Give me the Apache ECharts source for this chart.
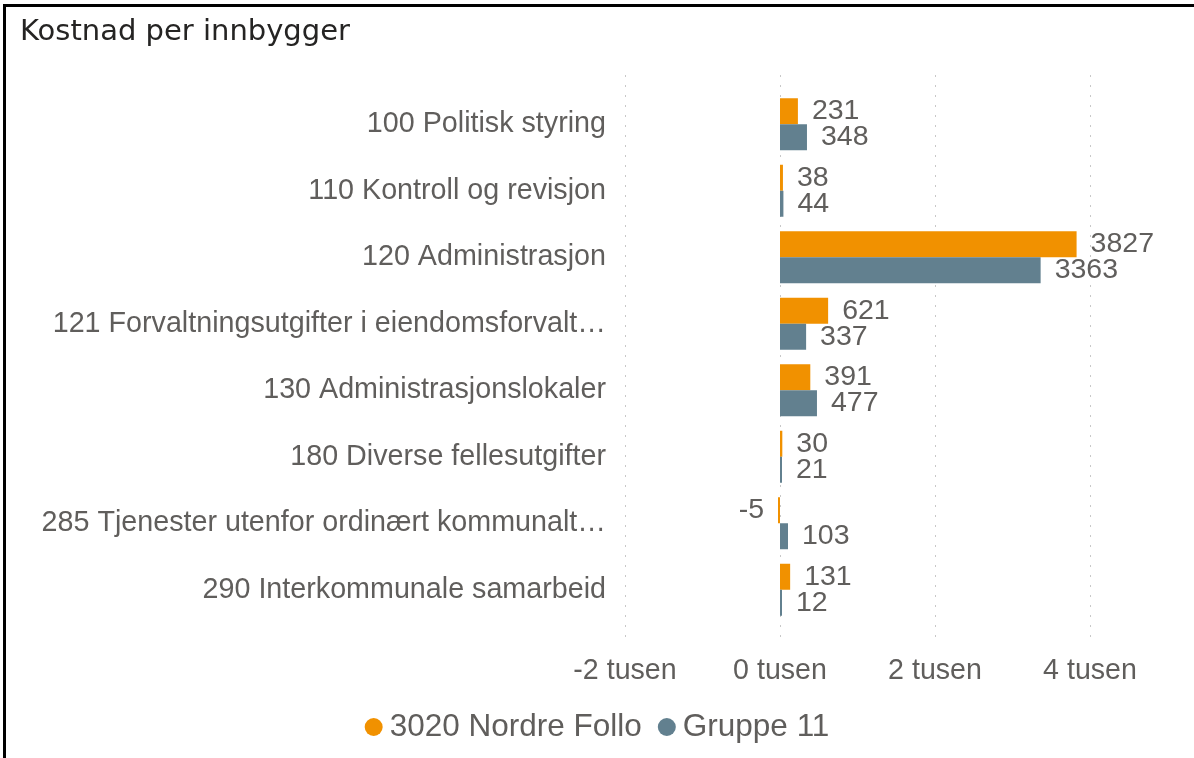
<!DOCTYPE html>
<html>
<head>
<meta charset="utf-8">
<script src="https://cdn.jsdelivr.net/npm/echarts@6/dist/echarts.min.js"></script>
<style>
  html, body { margin: 0; padding: 0; background: #fff; }
  #frame { position: absolute; left: 3px; top: 4px; width: 1191px; height: 754px;
           border-top: 3px solid #000; border-left: 3px solid #000; box-sizing: border-box; }
  #chart { position: absolute; left: 0; top: 0; width: 1194px; height: 758px; }
</style>
</head>
<body>
<div id="chart"></div>
<div id="frame"></div>
<script>
const categories = [
  "100 Politisk styring",
  "110 Kontroll og revisjon",
  "120 Administrasjon",
  "121 Forvaltningsutgifter i eiendomsforvalt…",
  "130 Administrasjonslokaler",
  "180 Diverse fellesutgifter",
  "285 Tjenester utenfor ordinært kommunalt…",
  "290 Interkommunale samarbeid"
];
const seriesNames = ["3020 Nordre Follo", "Gruppe 11"];
const nordreFollo = [231, 38, 3827, 621, 391, 30, -5, 131];
const gruppe11 = [348, 44, 3363, 337, 477, 21, 103, 12];
const xTicks = [-2000, 0, 2000, 4000];

const chart = echarts.init(document.getElementById('chart'), null, { renderer: 'canvas' });
const textColor = '#605E5C';
const FONT = '"Liberation Sans", Arial, sans-serif';

function toData(arr) {
  return arr.map(v => v < 0 ? { value: v, label: { position: 'left' } } : v);
}

const axisCommon = {
  type: 'value', min: xTicks[0], max: xTicks[xTicks.length - 1], interval: 2000
};

chart.setOption({
  animation: false,
  color: ['#F19100', '#62808F'],
  title: {
    text: 'Kostnad per innbygger',
    left: 15, top: 13,
    textStyle: { fontFamily: '"DejaVu Sans", sans-serif', fontSize: 29, fontWeight: 'normal', color: '#252423' }
  },
  legend: {
    data: seriesNames,
    left: 'center', top: 706,
    icon: 'circle', itemWidth: 18, itemHeight: 18, itemGap: 16,
    textStyle: { fontFamily: FONT, fontSize: 31.5, color: textColor, padding: [0, 0, 0, 2] }
  },
  grid: [
    { left: 625, right: 104, top: 91, bottom: 135 },
    { left: 625, right: 104, top: 75, bottom: 113 }
  ],
  xAxis: [
    Object.assign({}, axisCommon, {
      gridIndex: 0,
      axisLine: { show: false }, axisTick: { show: false },
      splitLine: { show: false },
      axisLabel: { margin: 34, fontFamily: FONT, fontSize: 28.6, color: textColor,
                   formatter: v => (v / 1000) + ' tusen' }
    }),
    Object.assign({}, axisCommon, {
      gridIndex: 1,
      axisLine: { show: false }, axisTick: { show: false }, axisLabel: { show: false },
      splitLine: { show: true, lineStyle: { color: '#C8C8C8', width: 1, type: [2, 8] } }
    })
  ],
  yAxis: [
    {
      gridIndex: 0, type: 'category', data: categories, inverse: true,
      axisLine: { show: false }, axisTick: { show: false },
      axisLabel: { margin: 19, fontFamily: FONT, fontSize: 28.7, color: textColor, padding: [3, 0, 0, 0] }
    },
    { gridIndex: 1, type: 'category', data: categories, show: false }
  ],
  series: [
    {
      name: seriesNames[0], type: 'bar', xAxisIndex: 0, yAxisIndex: 0,
      data: toData(nordreFollo), barWidth: 26, barGap: '0%', barMinHeight: 2,
      label: { show: true, position: 'right', distance: 14, fontFamily: FONT, fontSize: 28.5, color: textColor }
    },
    {
      name: seriesNames[1], type: 'bar', xAxisIndex: 0, yAxisIndex: 0,
      data: toData(gruppe11), barWidth: 26, barGap: '0%', barMinHeight: 2,
      label: { show: true, position: 'right', distance: 14, fontFamily: FONT, fontSize: 28.5, color: textColor }
    }
  ]
});
</script>
</body>
</html>
